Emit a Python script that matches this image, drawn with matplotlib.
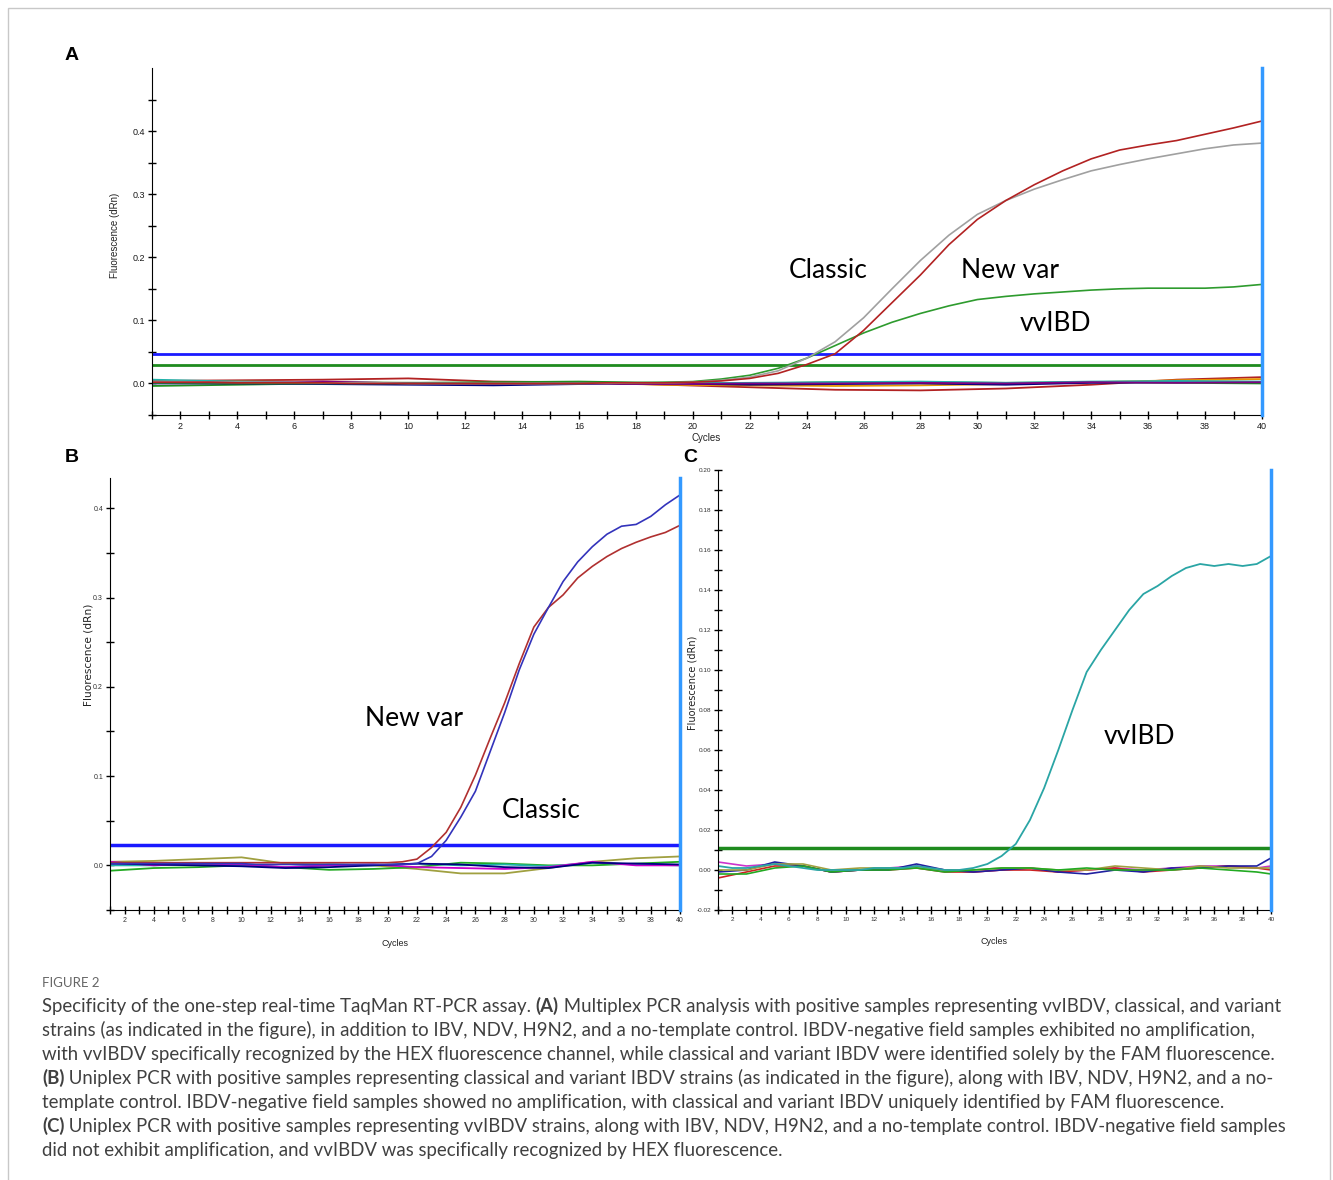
import numpy as np
import matplotlib.pyplot as plt
from matplotlib.ticker import FormatStrFormatter

W, H = 1333, 1180

cycles = list(range(1, 41))
noise_cycles = [1, 4, 7, 10, 13, 16, 19, 22, 25, 28, 31, 34, 37, 40]
noise_cycles_c = [1, 3, 5, 7, 9, 11, 13, 15, 17, 19, 21, 23, 25, 27, 29, 31, 33, 35, 37, 39, 40]

# panel A (multiplex)
a_classic = [0.003, 0.003, 0.002, 0.002, 0.002, 0.002, 0.001, 0.001, 0.001, 0.000,
             0.000, 0.000, 0.000, 0.000, 0.000, 0.000, 0.000, 0.001, 0.001, 0.002,
             0.005, 0.010, 0.020, 0.040, 0.066, 0.104, 0.150, 0.195, 0.235, 0.268,
             0.290, 0.308, 0.323, 0.337, 0.347, 0.356, 0.364, 0.372, 0.378, 0.381]
a_newvar = [0.002, 0.002, 0.002, 0.001, 0.001, 0.001, 0.001, 0.000, 0.000, 0.000,
            0.000, 0.000, 0.000, 0.000, 0.000, 0.000, 0.001, 0.001, 0.001, 0.002,
            0.004, 0.008, 0.016, 0.030, 0.047, 0.084, 0.128, 0.172, 0.220, 0.260,
            0.290, 0.315, 0.337, 0.356, 0.370, 0.378, 0.385, 0.395, 0.405, 0.416]
a_vvibd = [0.001, 0.001, 0.001, 0.001, 0.000, 0.000, 0.000, 0.000, 0.000, 0.000,
           0.000, 0.000, 0.000, 0.000, 0.000, 0.000, 0.001, 0.001, 0.002, 0.003,
           0.007, 0.013, 0.024, 0.040, 0.060, 0.080, 0.097, 0.111, 0.123, 0.133,
           0.138, 0.142, 0.145, 0.148, 0.150, 0.151, 0.151, 0.151, 0.153, 0.157]
a_noise = {
    '#b22222': [0.004, 0.005, 0.006, 0.008, 0.003, 0.002, -0.002, -0.006, -0.010, -0.011, -0.008, -0.002, 0.006, 0.010],
    '#e69500': [0.002, 0.003, 0.002, 0.001, 0.000, 0.001, -0.002, -0.003, -0.004, -0.003, -0.001, 0.002, 0.005, 0.007],
    '#1f8f1f': [-0.004, -0.002, 0.000, 0.001, 0.002, 0.003, 0.001, 0.000, 0.002, 0.002, 0.001, 0.002, 0.001, 0.000],
    '#000080': [0.000, 0.000, -0.001, -0.002, -0.003, -0.001, 0.000, -0.002, -0.001, 0.000, -0.002, 0.001, 0.002, 0.002],
    '#20b2aa': [0.006, 0.003, 0.002, 0.001, 0.000, 0.001, 0.000, 0.001, 0.002, 0.003, 0.001, 0.003, 0.004, 0.003],
    '#800080': [0.002, 0.001, 0.003, 0.000, -0.001, 0.000, -0.001, 0.000, 0.000, 0.001, 0.000, 0.002, 0.001, 0.002],
}
a_thresholds = [0.047, 0.030]

# panel B (uniplex, FAM)
b_classic = [0.002, 0.002, 0.002, 0.002, 0.002, 0.002, 0.002, 0.002, 0.002, 0.002,
             0.001, 0.001, 0.001, 0.001, 0.001, 0.001, 0.001, 0.001, 0.001, 0.001,
             0.001, 0.002, 0.010, 0.028, 0.054, 0.083, 0.127, 0.171, 0.219, 0.259,
             0.289, 0.318, 0.340, 0.357, 0.371, 0.380, 0.382, 0.391, 0.404, 0.415]
b_newvar = [0.003, 0.003, 0.003, 0.003, 0.003, 0.003, 0.003, 0.003, 0.003, 0.003,
            0.003, 0.003, 0.003, 0.003, 0.003, 0.003, 0.003, 0.003, 0.003, 0.003,
            0.004, 0.007, 0.020, 0.037, 0.065, 0.101, 0.142, 0.182, 0.226, 0.267,
            0.289, 0.303, 0.322, 0.335, 0.346, 0.355, 0.362, 0.368, 0.373, 0.381]
b_noise = {
    '#a0a040': [0.004, 0.005, 0.007, 0.009, 0.002, 0.001, 0.000, -0.004, -0.009, -0.009, -0.003, 0.004, 0.008, 0.010],
    '#22aa22': [-0.006, -0.003, -0.002, 0.000, -0.002, -0.005, -0.004, -0.002, 0.003, 0.002, 0.000, 0.000, 0.002, 0.004],
    '#20b2aa': [0.000, 0.000, 0.001, 0.000, -0.002, 0.001, 0.000, 0.002, 0.000, 0.001, -0.001, 0.003, 0.001, 0.000],
    '#cc00cc': [0.004, 0.000, 0.002, 0.001, -0.002, 0.000, 0.001, -0.002, -0.003, -0.004, -0.002, 0.004, 0.000, 0.000],
    '#000080': [0.002, 0.001, 0.000, -0.001, -0.003, -0.002, 0.000, 0.002, 0.001, -0.002, -0.003, 0.003, 0.002, 0.001],
}
b_threshold = 0.023

# panel C (uniplex, HEX)
c_vvibd = [0.002, 0.001, 0.001, 0.002, 0.003, 0.002, 0.001, 0.000, 0.000, 0.000,
           0.000, 0.001, 0.001, 0.001, 0.002, 0.001, 0.000, 0.000, 0.001, 0.003,
           0.007, 0.013, 0.025, 0.041, 0.060, 0.080, 0.099, 0.110, 0.120, 0.130,
           0.138, 0.142, 0.147, 0.151, 0.153, 0.152, 0.153, 0.152, 0.153, 0.157]
c_noise = {
    '#cc33cc': [0.004, 0.002, 0.003, 0.002, -0.001, 0.000, 0.001, 0.002, 0.000, -0.001, 0.000, 0.001, -0.001, 0.000, 0.001, 0.000, 0.001, 0.002, 0.002, 0.001, 0.002],
    '#cc2222': [-0.004, -0.001, 0.002, 0.002, -0.001, 0.000, 0.000, 0.001, -0.001, -0.001, 0.000, 0.000, -0.001, 0.000, 0.001, -0.001, 0.000, 0.001, 0.002, 0.001, 0.000],
    '#2020a0': [-0.001, 0.000, 0.004, 0.002, -0.001, 0.000, 0.000, 0.003, 0.000, -0.001, 0.000, 0.001, -0.001, -0.002, 0.000, -0.001, 0.001, 0.001, 0.002, 0.002, 0.006],
    '#a0a040': [0.000, 0.000, 0.003, 0.003, 0.000, 0.001, 0.001, 0.001, 0.000, 0.000, 0.001, 0.001, 0.000, 0.000, 0.002, 0.001, 0.000, 0.002, 0.001, 0.001, 0.001],
    '#22aa22': [-0.002, -0.002, 0.001, 0.002, -0.001, 0.000, 0.000, 0.001, -0.001, 0.000, 0.001, 0.001, 0.000, 0.001, 0.000, 0.000, 0.000, 0.001, 0.000, -0.001, -0.002],
}
c_threshold = 0.011

caption = [
    [("Specificity of the one-step real-time TaqMan RT-PCR assay. ", False), ("(A)", True),
     (" Multiplex PCR analysis with positive samples representing vvIBDV, classical, and variant", False)],
    [("strains (as indicated in the figure), in addition to IBV, NDV, H9N2, and a no-template control. IBDV-negative field samples exhibited no amplification,", False)],
    [("with vvIBDV specifically recognized by the HEX fluorescence channel, while classical and variant IBDV were identified solely by the FAM fluorescence.", False)],
    [("(B)", True), (" Uniplex PCR with positive samples representing classical and variant IBDV strains (as indicated in the figure), along with IBV, NDV, H9N2, and a no-", False)],
    [("template control. IBDV-negative field samples showed no amplification, with classical and variant IBDV uniquely identified by FAM fluorescence.", False)],
    [("(C)", True), (" Uniplex PCR with positive samples representing vvIBDV strains, along with IBV, NDV, H9N2, and a no-template control. IBDV-negative field samples", False)],
    [("did not exhibit amplification, and vvIBDV was specifically recognized by HEX fluorescence.", False)],
]


def fx(px):
    return px / W


def fy(py):
    return 1 - py / H


def setup(ax, ylim, ymajor, yminor, fmt, tsize, tcolor='#333333'):
    ax.set_xlim(1, 40)
    ax.set_ylim(*ylim)
    for s in ['top', 'right']:
        ax.spines[s].set_visible(False)
    ax.set_xticks(range(2, 41, 2))
    ax.set_xticks(range(1, 41), minor=True)
    ax.set_yticks(ymajor)
    ax.set_yticks(yminor, minor=True)
    ax.yaxis.set_major_formatter(FormatStrFormatter(fmt))
    ax.tick_params(which='both', direction='inout', length=6, width=1, pad=2)
    for lab in ax.get_xticklabels() + ax.get_yticklabels():
        lab.set_family('Liberation Sans')
        lab.set_fontsize(tsize)
        lab.set_color(tcolor)
    ax.axvline(40, color='#3399ff', lw=2.5, clip_on=False, zorder=5)


fig = plt.figure(figsize=(W / 100, H / 100), dpi=100)
fig.add_artist(plt.Rectangle((fx(8), -0.01), fx(1330 - 8), fy(8) + 0.01,
                             transform=fig.transFigure, fill=False, ec='#c8c8c8', lw=1))

# ---- A ----
axA = fig.add_axes([fx(152), fy(415), fx(1262 - 152), (415 - 68) / H])
for col, vals in a_noise.items():
    axA.plot(noise_cycles, vals, color=col, lw=1.3)
axA.axhline(a_thresholds[0], color='#1a1aff', lw=2)
axA.axhline(a_thresholds[1], color='#1e8b1e', lw=2)
axA.plot(cycles, a_vvibd, color='#2e9b2e', lw=1.2)
axA.plot(cycles, a_classic, color='#a0a0a0', lw=1.2)
axA.plot(cycles, a_newvar, color='#b22222', lw=1.2)
setup(axA, (-0.042, 0.5), [0.0, 0.1, 0.2, 0.3, 0.4], np.arange(-0.05, 0.5, 0.05), '%.1f', 6.5,
      tcolor='#1a1a1a')
axA.text(24.75, 0.179, 'Classic', fontsize=19, family='Lato', ha='center', va='center')
axA.text(31.15, 0.179, 'New var', fontsize=19, family='Lato', ha='center', va='center')
axA.text(32.76, 0.095, 'vvIBD', fontsize=19, family='Lato', ha='center', va='center')
fig.text(fx(115), fy(235), 'Fluorescence (dRn)', rotation=90, ha='center', va='center',
         fontsize=7, family='Liberation Sans', color='#222222')
fig.text(fx(706), fy(438), 'Cycles', ha='center', va='center', fontsize=7,
         family='Liberation Sans', color='#222222')

# ---- B ----
axB = fig.add_axes([fx(110), fy(910), fx(680 - 110), (910 - 478) / H])
for col, vals in b_noise.items():
    axB.plot(noise_cycles, vals, color=col, lw=1.3)
axB.axhline(b_threshold, color='#1a1aff', lw=2.5)
axB.plot(cycles, b_newvar, color='#b03030', lw=1.2)
axB.plot(cycles, b_classic, color='#3333bb', lw=1.2)
setup(axB, (-0.042, 0.434), [0.0, 0.1, 0.2, 0.3, 0.4], np.arange(-0.05, 0.45, 0.05), '%.1f', 5)
axB.text(21.8, 0.164, 'New var', fontsize=19, family='Lato', ha='center', va='center')
axB.text(30.5, 0.061, 'Classic', fontsize=19, family='Lato', ha='center', va='center')
fig.text(fx(89), fy(655), 'Fluorescence (dRn)', rotation=90, ha='center', va='center',
         fontsize=7.6, family='DejaVu Sans', color='#222222')
fig.text(fx(395), fy(944), 'Cycles', ha='center', va='center', fontsize=6.5,
         family='Liberation Sans', color='#222222')

# ---- C ----
axC = fig.add_axes([fx(718), fy(910), fx(1271 - 718), (910 - 470) / H])
for col, vals in c_noise.items():
    axC.plot(noise_cycles_c, vals, color=col, lw=1.2)
axC.axhline(c_threshold, color='#1e8b1e', lw=2.5)
axC.plot(cycles, c_vvibd, color='#2aa5a5', lw=1.3)
setup(axC, (-0.02, 0.20), np.arange(-0.02, 0.201, 0.02), np.arange(-0.02, 0.201, 0.01), '%.2f', 4.6)
axC.text(30.7, 0.067, 'vvIBD', fontsize=19, family='Lato', ha='center', va='center')
fig.text(fx(693), fy(683), 'Fluorescence (dRn)', rotation=90, ha='center', va='center',
         fontsize=7, family='DejaVu Sans', color='#222222')
fig.text(fx(994), fy(941), 'Cycles', ha='center', va='center', fontsize=6.5,
         family='Liberation Sans', color='#222222')

# panel letters
for lab, (px, py) in zip(['A', 'B', 'C'], [(72, 55), (72, 458), (690, 458)]):
    fig.text(fx(px), fy(py), lab, ha='center', va='center', fontsize=14,
             fontweight='bold', family='Liberation Sans')

# caption
fig.text(fx(42), fy(983), 'FIGURE 2', ha='left', va='center', fontsize=9.5,
         family='Lato', color='#666666')
for i, parts in enumerate(caption):
    yb = 1006 + 24 * i + 6
    prev = None
    for txt, bold in parts:
        kw = dict(fontsize=13.4, family='Lato', color='#404040',
                  fontweight='bold' if bold else 'normal')
        if prev is None:
            prev = fig.text(fx(42), fy(yb), txt, ha='left', va='baseline', **kw)
        else:
            prev = axA.annotate(txt, xy=(1, 0), xycoords=prev, ha='left', va='bottom',
                                annotation_clip=False, **kw)

fig.savefig('out.png', dpi=100)
